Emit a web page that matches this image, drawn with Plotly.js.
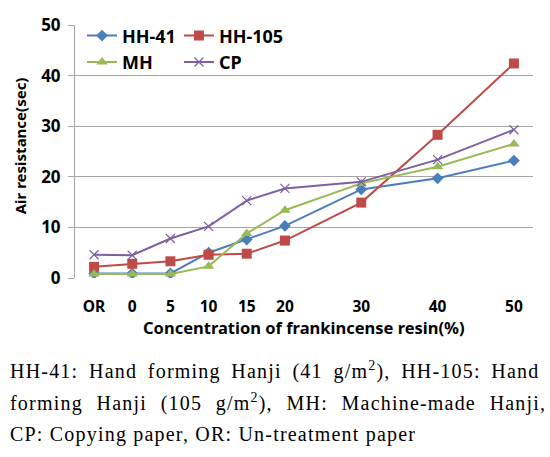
<!DOCTYPE html>
<html>
<head>
<meta charset="utf-8">
<script src="https://cdn.plot.ly/plotly-3.0.1.min.js"></script>
<style>html,body{margin:0;padding:0;background:#fff;}#chart{width:550px;height:457px;}</style>
</head>
<body>
<div id="chart"></div>
<script>
// Data
var xPositions = [-5, 0, 5, 10, 15, 20, 30, 40, 50];
var tickLabels = ["OR", "0", "5", "10", "15", "20", "30", "40", "50"];
var hh41 = [0.9, 0.9, 0.9, 5.0, 7.6, 10.3, 17.5, 19.7, 23.2];
var hh105 = [2.2, 2.8, 3.3, 4.6, 4.8, 7.4, 14.9, 28.3, 42.4];
var mh = [0.8, 0.8, 0.8, 2.3, 8.8, 13.4, 18.7, 22.0, 26.5];
var cp = [4.6, 4.5, 7.8, 10.2, 15.3, 17.7, 19.0, 23.4, 29.3];
var seriesNames = ["HH-41", "HH-105", "MH", "CP"];
var xTitle = "Concentration of frankincense resin(%)";
var yTitle = "Air resistance(sec)";
var caption = [
  "HH-41: Hand forming Hanji (41 g/m<sup>2</sup>), HH-105: Hand",
  "forming Hanji (105 g/m<sup>2</sup>), MH: Machine-made Hanji,",
  "CP: Copying paper, OR: Un-treatment paper"
];

var font = "Noto Sans, DejaVu Sans, sans-serif";
var PH = 253.5, PW = 458;
function tr(name, y, color, symbol, size, legend) {
  return {
    x: xPositions, y: y, name: name, type: 'scatter', mode: 'lines+markers',
    line: {color: color, width: 2},
    marker: {color: color, symbol: symbol, size: size, line: {color: color, width: symbol === 'x-thin' ? 1.2 : 0}},
    legend: legend
  };
}
var traces = [
  tr(seriesNames[0], hh41, '#4A7EBB', 'diamond', 9, 'legend'),
  tr(seriesNames[1], hh105, '#BE4B48', 'square', 10, 'legend2'),
  tr(seriesNames[2], mh, '#98B954', 'triangle-up', 10, 'legend'),
  tr(seriesNames[3], cp, '#7D60A0', 'x-thin', 9, 'legend2')
];

var capAnn = caption.map(function(t, i) {
  return {text: t, xref: 'paper', yref: 'paper', x: -67/PW, y: (278 - 371 - i*32)/PH,
    xanchor: 'left', yanchor: 'middle', showarrow: false, align: 'left',
    font: {family: "Liberation Serif, Times New Roman, serif", size: 20, color: '#000'}};
});
var anns = capAnn.concat([
  {text: xTitle, xref: 'paper', yref: 'paper', x: 0.5, y: (278 - 328)/PH,
   xanchor: 'center', yanchor: 'middle', showarrow: false,
   font: {family: font, size: 16.5, weight: 'bold', color: '#000'}},
  {text: yTitle, xref: 'paper', yref: 'paper', x: (20 - 75)/PW, y: (278 - 146)/PH,
   xanchor: 'center', yanchor: 'middle', showarrow: false, textangle: -90,
   font: {family: font, size: 15, weight: 'bold', color: '#000'}}
]);

var legFont = {family: font, size: 18, weight: 'bold', color: '#000'};
var layout = {
  width: 550, height: 457,
  margin: {l: 75, r: 17, t: 24.5, b: 179},
  paper_bgcolor: '#fff', plot_bgcolor: '#fff',
  font: {family: font, color: '#000'},
  xaxis: {
    range: [-7.5, 52.5], tickvals: xPositions, ticktext: tickLabels,
    showgrid: false, zeroline: false, showline: false, ticks: '',
    ticklabelstandoff: 17,
    tickfont: {family: font, size: 15.5, weight: 'bold', color: '#000'}
  },
  yaxis: {
    range: [0, 50], tickvals: [0, 10, 20, 30, 40, 50],
    showgrid: true, gridcolor: '#A6A6A6', gridwidth: 1,
    zeroline: false, showline: true, linecolor: '#A6A6A6', linewidth: 1,
    ticks: 'outside', ticklen: 6, tickcolor: '#A6A6A6',
    ticklabelstandoff: 4,
    tickfont: {family: font, size: 17, weight: 'bold', color: '#000'}
  },
  showlegend: true,
  legend: {orientation: 'v', x: 0.0153, y: 1.03, xanchor: 'left', yanchor: 'top',
    bgcolor: 'rgba(0,0,0,0)', itemwidth: 30, font: legFont},
  legend2: {orientation: 'v', x: 0.227, y: 1.03, xanchor: 'left', yanchor: 'top',
    bgcolor: 'rgba(0,0,0,0)', itemwidth: 30, font: legFont},
  annotations: anns
};
var ls = [1.2, 1.2, 1.2], ws = [4.5, 7.5, 0];
Plotly.newPlot('chart', traces, layout, {displayModeBar: false, staticPlot: true}).then(function(gd) {
  var texts = gd.querySelectorAll('.annotation-text');
  for (var i = 0; i < caption.length && i < texts.length; i++) {
    texts[i].style.letterSpacing = ls[i] + 'px';
    texts[i].style.wordSpacing = ws[i] + 'px';
  }
});
</script>
</body>
</html>
